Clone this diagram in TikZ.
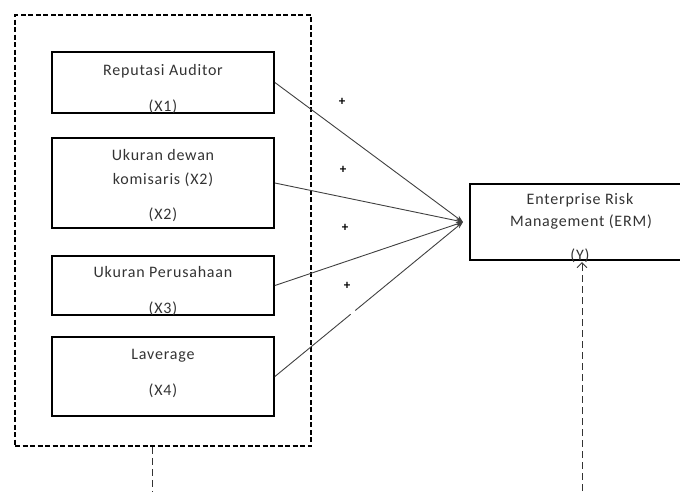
\documentclass[tikz,border=0pt]{standalone}
\usepackage{fontspec}
\setmainfont{Carlito}
\newfontfamily\lblfont[LetterSpace=5]{Carlito}
\usetikzlibrary{arrows.meta}
\begin{document}
\begin{tikzpicture}[x=1pt,y=-1pt,
  varbox/.style={draw=black,line width=1.8pt,rectangle,inner sep=0pt},
  lbl/.style={font=\lblfont\fontsize{16}{18}\selectfont,text=black!80,inner sep=0pt,anchor=center},
  conn/.style={draw=black!75,line width=0.9pt},
  grp/.style={draw=black,line width=1.6pt,dash pattern=on 5pt off 2.5pt},
  vdash/.style={draw=black!80,line width=0.9pt,dash pattern=on 7pt off 4pt},
  plus/.style={font=\fontsize{13}{15}\selectfont\bfseries,inner sep=0pt}]
\useasboundingbox (0,0) rectangle (680,491);
% group box
\node[grp,minimum width=296pt,minimum height=431pt] (grp) at (163,230.5) {};
% variable boxes
\node[varbox,minimum width=222pt,minimum height=61pt] (b1) at (163,82.5) {};
\node[varbox,minimum width=222pt,minimum height=90pt] (b2) at (163,183) {};
\node[varbox,minimum width=222pt,minimum height=59pt] (b3) at (163,285.5) {};
\node[varbox,minimum width=222pt,minimum height=79pt] (b4) at (163,376.5) {};
\node[varbox,minimum width=214pt,minimum height=76pt] (erm) at (577,222) {};
% labels
\node[lbl] (t1a) at (163,71) {Reputasi Auditor};
\node[lbl] (t1b) at (163,107) {(X1)};
\node[lbl] (t2a) at (163,155) {Ukuran dewan};
\node[lbl] (t2b) at (163,180) {komisaris (X2)};
\node[lbl] (t2c) at (163,215) {(X2)};
\node[lbl] (t3a) at (163,272) {Ukuran Perusahaan};
\node[lbl] (t3b) at (163,309) {(X3)};
\node[lbl] (t4a) at (163,356) {Laverage};
\node[lbl] (t4b) at (163,391) {(X4)};
\node[lbl] (tya) at (580,200) {Enterprise Risk};
\node[lbl] (tyb) at (581,222) {Management (ERM)};
\node[lbl] (tyc) at (580,256) {(Y)};
% plus signs
\node[plus] (p1) at (342,102) {+};
\node[plus] (p2) at (343,170) {+};
\node[plus] (p3) at (345,228) {+};
\node[plus] (p4) at (347,286) {+};
% connectors
\coordinate (tip) at (463,222);
\draw[conn,-{Stealth[length=7pt,width=5pt]}] (b1.east) -- (tip);
\draw[conn,-{Stealth[length=7pt,width=5pt]}] (b2.east) -- (tip);
\draw[conn,-{Stealth[length=7pt,width=5pt]}] (b3.east) -- (tip);
\draw[conn,-{Stealth[length=7pt,width=5pt]},dash pattern=on 98pt off 6pt on 200pt] (b4.east) -- (tip);
% dashed lines
\coordinate (gbot) at (152,491);
\draw[vdash] (grp.south -| gbot) -- (gbot);
\coordinate (ebot) at (582,491);
\coordinate (etop) at (582,262);
\draw[vdash,-{Straight Barb[length=5pt,width=10pt]}] (ebot) -- (etop);
\end{tikzpicture}
\end{document}
